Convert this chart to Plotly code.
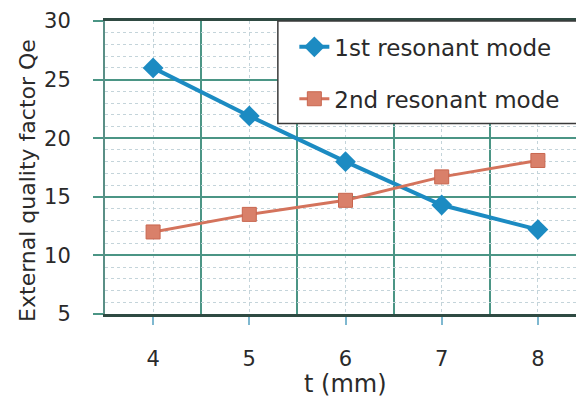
import plotly.graph_objects as go

# Data: external quality factor vs. thickness t
t_mm = [4, 5, 6, 7, 8]
qe_mode1 = [26.0, 21.9, 18.0, 14.3, 12.2]
qe_mode2 = [12.0, 13.5, 14.7, 16.7, 18.1]
y_ticks = [5, 10, 15, 20, 25, 30]
series_names = ["1st resonant mode", "2nd resonant mode"]

FONT = "DejaVu Sans"
TEXT = "#2a2a2a"
GRID_MAJOR = "#4b9585"
GRID_MINOR = "#c4d4da"
BLUE = "#1c8bc2"
ORANGE = "#d4735c"

fig = go.Figure()

fig.add_trace(go.Scatter(
    x=t_mm, y=qe_mode1, name=series_names[0], mode="lines+markers",
    line=dict(color=BLUE, width=4),
    marker=dict(symbol="diamond", size=16, color=BLUE),
    legendgroup="a",
))
fig.add_trace(go.Scatter(
    x=t_mm, y=qe_mode2, name=series_names[1], mode="lines+markers",
    line=dict(color=ORANGE, width=3),
    marker=dict(symbol="square", size=14, color="#d9806a",
                line=dict(color="#c8664f", width=1)),
    legendgroup="b",
))

# Legend frame, running off the right edge
fig.add_shape(type="rect", xref="paper", yref="paper",
              x0=0.367, x1=1.05, y0=0.65, y1=1.0,
              fillcolor="white", line=dict(color="#3a3a3a", width=1.5),
              layer="above")

fig.update_layout(
    width=576, height=400,
    margin=dict(l=105, r=0, t=21, b=86),
    paper_bgcolor="white", plot_bgcolor="white",
    font=dict(family=FONT, color=TEXT),
    showlegend=True,
    legend=dict(
        x=0.402, y=0.985, xanchor="left", yanchor="top",
        bgcolor="rgba(0,0,0,0)", borderwidth=0,
        font=dict(family=FONT, size=23, color=TEXT),
        traceorder="grouped", tracegroupgap=19,
    ),
    xaxis=dict(
        range=[3.5, 8.396],
        tickmode="array", tickvals=t_mm, ticktext=[str(v) for v in t_mm],
        tickfont=dict(size=21, color=TEXT),
        ticks="outside", ticklen=8, tickwidth=1.5, tickcolor="#7fb8d0",
        ticklabelstandoff=16,
        showgrid=True, gridcolor=GRID_MINOR, griddash="dot", gridwidth=1,
        minor=dict(tickmode="array", tickvals=[4.5, 5.5, 6.5, 7.5],
                   showgrid=True, gridcolor=GRID_MAJOR, griddash="solid",
                   gridwidth=2, ticks=""),
        showline=True, linecolor="#2f4a42", linewidth=3, mirror=True,
        zeroline=False,
    ),
    yaxis=dict(
        range=[5, 30],
        tickmode="array", tickvals=y_ticks,
        tickfont=dict(size=21, color=TEXT),
        ticks="outside", ticklen=10, tickwidth=2, tickcolor=GRID_MAJOR,
        ticklabelstandoff=18,
        showgrid=True, gridcolor=GRID_MAJOR, gridwidth=2,
        minor=dict(dtick=1, showgrid=True, gridcolor=GRID_MINOR,
                   griddash="dot", gridwidth=1, ticks=""),
        showline=True, linecolor="#5a8f86", linewidth=2, mirror=False,
        zeroline=False,
    ),
    annotations=[
        dict(text="t (mm)", xref="x", yref="paper", x=6, y=-0.185,
             xanchor="center", yanchor="top", showarrow=False,
             font=dict(family=FONT, size=24, color=TEXT)),
        dict(text="External quality factor Qe", xref="paper", yref="paper",
             x=-0.166, y=0.457, xanchor="center", yanchor="middle",
             textangle=-90, showarrow=False,
             font=dict(family=FONT, size=22, color=TEXT)),
    ],
)

fig.write_html("out.html")
